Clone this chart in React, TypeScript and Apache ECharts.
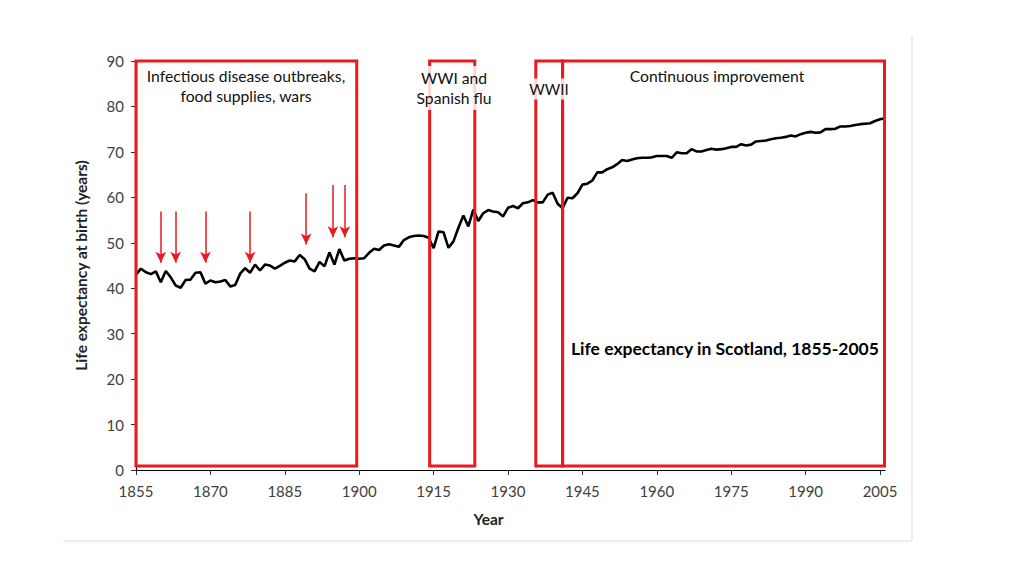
import React, { useEffect, useRef } from "react";
import * as echarts from "echarts";

const startYear = 1855;
const lifeExpectancy = [
  43.0, 44.3, 43.5, 43.1, 43.7, 41.3, 43.8, 42.4, 40.6, 40.1,
  41.8, 41.9, 43.4, 43.5, 41.0, 41.7, 41.3, 41.5, 41.8, 40.4,
  40.7, 43.2, 44.4, 43.4, 45.2, 43.9, 45.2, 45.0, 44.3, 44.9,
  45.6, 46.1, 45.9, 47.3, 46.4, 44.3, 43.7, 45.8, 44.8, 47.9,
  45.2, 48.6, 46.1, 46.5, 46.6, 46.5, 46.6, 47.8, 48.7, 48.4,
  49.4, 49.7, 49.4, 49.1, 50.6, 51.2, 51.5, 51.6, 51.5, 51.1,
  48.8, 52.5, 52.3, 48.9, 50.3, 53.3, 56.0, 53.6, 57.3, 54.8,
  56.5, 57.2, 56.9, 56.7, 55.8, 57.7, 58.1, 57.6, 58.7, 58.9,
  59.4, 58.9, 58.9, 60.6, 61.0, 58.6, 57.6, 59.9, 59.8, 60.9,
  62.8, 63.0, 63.7, 65.5, 65.5, 66.2, 66.6, 67.3, 68.2, 68.0,
  68.3, 68.6, 68.7, 68.7, 68.8, 69.1, 69.1, 69.1, 68.7, 69.9,
  69.7, 69.7, 70.6, 70.1, 70.1, 70.4, 70.7, 70.5, 70.6, 70.8,
  71.1, 71.1, 71.7, 71.4, 71.6, 72.3, 72.4, 72.5, 72.8, 73.0,
  73.1, 73.3, 73.6, 73.4, 73.9, 74.2, 74.4, 74.2, 74.3, 75.0,
  75.0, 75.1, 75.6, 75.6, 75.7, 75.9, 76.1, 76.2, 76.3, 76.8,
  77.2, 77.4,
];
const years = lifeExpectancy.map((_, i) => startYear + i);

const xTickLabels = [1855, 1870, 1885, 1900, 1915, 1930, 1945, 1960, 1975, 1990, 2005];

// Red period boxes: [fromYear, toYear, bottom, top]
const boxFrom = [1855, 1914.2, 1935.6, 1941.0];
const boxTo = [1899.5, 1923.3, 1941.0, 2005.9];
const boxBottom = [0.9, 0.9, 0.9, 0.9];
const boxTop = [90, 90, 90, 90];

// Red arrows marking outbreaks
const arrowYears = [1860, 1863, 1869, 1878, 1889.3, 1894.7, 1897.1];
const arrowTops = [56.9, 56.9, 56.9, 56.9, 60.9, 62.7, 62.7];
const arrowTips = [45.6, 45.6, 45.6, 45.6, 49.6, 51.2, 51.2];

const RED = "#ea1a1f";
const FONT = "Lato, 'Open Sans', sans-serif";

export default function App() {
  const ref = useRef<HTMLDivElement>(null);
  useEffect(() => {
    if (!ref.current) return;
    const chart = echarts.init(ref.current, null, { renderer: "svg" });
    const boxData = boxFrom.map((f, i) => [f, boxTo[i], boxBottom[i], boxTop[i]]);
    chart.setOption({
      animation: false,
      backgroundColor: "#ffffff",
      textStyle: { fontFamily: FONT },
      grid: { left: 136, right: 139, top: 61, bottom: 106, containLabel: false },
      xAxis: {
        type: "value",
        min: 1855,
        max: 2006,
        name: "Year",
        nameLocation: "middle",
        nameGap: 41,
        nameTextStyle: {
          fontFamily: FONT, fontWeight: "bold", fontSize: 15.5, color: "#222",
          padding: [0, 44, 0, 0],
        },
        axisLine: { show: true, lineStyle: { color: "#000", width: 1.2 } },
        axisTick: { show: true, length: 5, lineStyle: { color: "#333" }, customValues: xTickLabels },
        axisLabel: {
          customValues: xTickLabels,
          formatter: (v: number) => String(v),
          fontFamily: FONT,
          fontSize: 15,
          color: "#404040",
          margin: 13,
        },
        splitLine: { show: false },
      },
      yAxis: {
        type: "value",
        min: 0,
        max: 90,
        interval: 10,
        name: "Life expectancy at birth (years)",
        nameLocation: "middle",
        nameGap: 47,
        nameTextStyle: { fontFamily: FONT, fontWeight: "bold", fontSize: 15.5, color: "#222" },
        axisLine: { show: true, lineStyle: { color: "#000", width: 1.2 } },
        axisTick: { show: true, length: 5, lineStyle: { color: "#333" } },
        axisLabel: { fontFamily: FONT, fontSize: 15, color: "#404040", margin: 12 },
        splitLine: { show: false },
      },
      series: [
        {
          type: "line",
          data: years.map((y, i) => [y, lifeExpectancy[i]]),
          symbol: "none",
          lineStyle: { color: "#000", width: 2.6 },
          z: 2,
          silent: true,
          markLine: {
            silent: true,
            symbol: ["none", "arrow"],
            symbolSize: [8, 11],
            label: { show: false },
            lineStyle: { color: RED, width: 1.5, type: "solid" },
            data: arrowYears.map((yr, i) => [
              { coord: [yr, arrowTops[i]] },
              { coord: [yr, arrowTips[i]] },
            ]),
          },
        },
        {
          type: "custom",
          z: 5,
          silent: true,
          data: boxData,
          renderItem: (params: any, api: any) => {
            const p0 = api.coord([api.value(0), api.value(3)]);
            const p1 = api.coord([api.value(1), api.value(2)]);
            return {
              type: "rect",
              shape: { x: p0[0], y: p0[1], width: p1[0] - p0[0], height: p1[1] - p0[1] },
              style: { fill: "none", stroke: RED, lineWidth: 3 },
            };
          },
        },
      ],
      graphic: [
        { type: "line", silent: true, shape: { x1: 912, y1: 35, x2: 912, y2: 541 }, style: { stroke: "#dcdcdc", lineWidth: 1 } },
        { type: "line", silent: true, shape: { x1: 63, y1: 541, x2: 912, y2: 541 }, style: { stroke: "#dcdcdc", lineWidth: 1 } },
        {
          type: "text", z: 100, x: 246, y: 86,
          style: {
            text: "Infectious disease outbreaks,\nfood supplies, wars",
            fontFamily: FONT, fontSize: 15.7, lineHeight: 20, fill: "#111",
            align: "center", verticalAlign: "middle",
          },
        },
        {
          type: "text", z: 100, x: 454, y: 88,
          style: {
            text: "WWI and\nSpanish flu",
            fontFamily: FONT, fontSize: 15.7, lineHeight: 20, fill: "#111",
            align: "center", verticalAlign: "middle",
            backgroundColor: "rgba(255,255,255,0.82)", padding: [2, 1],
          },
        },
        {
          type: "text", z: 100, x: 549, y: 89,
          style: {
            text: "WWII",
            fontFamily: FONT, fontSize: 15, fill: "#111",
            align: "center", verticalAlign: "middle",
            backgroundColor: "rgba(255,255,255,0.82)", padding: [3, 0],
          },
        },
        {
          type: "text", z: 100, x: 717, y: 76,
          style: {
            text: "Continuous improvement",
            fontFamily: FONT, fontSize: 15.7, fill: "#111",
            align: "center", verticalAlign: "middle",
          },
        },
        {
          type: "text", z: 100, x: 571, y: 348,
          style: {
            text: "Life expectancy in Scotland, 1855-2005",
            fontFamily: FONT, fontSize: 17.5, fontWeight: "bold", fill: "#000",
            align: "left", verticalAlign: "middle",
          },
        },
      ],
    });
    return () => chart.dispose();
  }, []);
  return (
    <div
      ref={ref}
      style={{ position: "absolute", left: 0, top: 0, width: 1024, height: 577 - 1, background: "#fff" }}
    />
  );
}
